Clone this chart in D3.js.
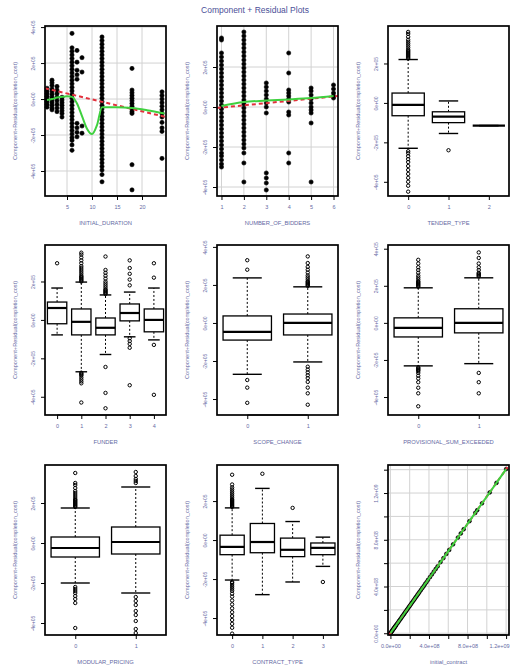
<!DOCTYPE html>
<html>
<head>
<meta charset="utf-8">
<script src="https://cdn.jsdelivr.net/npm/d3@7"></script>
<style>
  body { margin: 0; background: #fff; }
  svg { display: block; font-family: "Liberation Sans", Arial, sans-serif; }
</style>
</head>
<body>
<div id="chart"></div>
<script>
// ---- data (residual units are 1e5, contract units are 1e8) ----

// INITIAL_DURATION : scatter, grouped by x level
const durationLevels = [1, 2, 3, 4, 6, 7, 8, 12, 18, 24]
const durationResid = [
  [0.6, 0.45, 0.3, 0.15, 0.0, -0.15, -0.3, -0.45],
  [1.05, 0.9, 0.75, 0.55, 0.4, 0.25, 0.1, -0.05, -0.2, -0.35, -0.5, -0.6],
  [0.7, 0.5, 0.3, 0.1, -0.1, -0.3, -0.5, -0.7],
  [0.1, -0.05, -0.2, -0.35, -0.5, -0.65, -0.8, -1.0],
  [3.65, 2.85, 2.65, 2.45, 2.25, 2.05, 1.85, 1.65, 1.45, 1.25, 1.05, 0.85, 0.65, 0.45, 0.25, 0.05,
   -0.15, -0.35, -0.55, -0.75, -0.95, -1.15, -1.35, -1.55, -1.75, -1.95, -2.15, -2.3, -2.55, -2.85],
  [2.7, 2.05, 1.6, 1.35, 1.1, -1.35, -1.6, -1.85, -2.1],
  [2.3, 1.5, -1.5, -1.9],
  [3.45, 3.25, 3.05, 2.85, 2.65, 2.45, 2.25, 2.05, 1.85, 1.65, 1.45, 1.25, 1.05, 0.85, 0.65, 0.45, 0.25, 0.05,
   -0.15, -0.35, -0.55, -0.75, -0.95, -1.15, -1.35, -1.55, -1.75, -1.95, -2.15, -2.35, -2.55, -2.75, -2.95,
   -3.15, -3.35, -3.55, -3.75, -3.95, -4.2, -4.6],
  [1.7, 0.5, 0.35, 0.2, 0.05, -0.1, -0.25, -0.4, -0.55, -0.7, -0.8, -3.65, -5.05],
  [0.4, 0.2, 0.0, -0.2, -0.4, -0.6, -0.8, -1.0, -1.3, -1.6, -1.8, -3.3]
]
const durationFitX = [0.6, 24.8]
const durationFitY = [0.6, -1.0]
const durationSmoothX = [1, 2, 3, 4, 5, 6, 7, 8, 9, 10, 11, 12, 15, 18, 21, 24.5]
const durationSmoothY = [-0.05, 0.0, 0.08, 0.12, 0.15, 0.12, -0.25, -0.95, -1.65, -1.95, -1.45, -0.45, -0.45, -0.5, -0.62, -0.8]
const durationTicks = [5, 10, 15, 20]

// NUMBER_OF_BIDDERS : scatter
const biddersLevels = [1, 2, 3, 4, 5, 6]
const biddersResid = [
  [3.45, 3.35, 2.7, 2.5, 2.3, 2.1, 1.9, 1.7, 1.5, 1.3, 1.1, 0.9, 0.7, 0.5, 0.3, 0.1, -0.1, -0.3, -0.5,
   -0.7, -0.9, -1.1, -1.3, -1.5, -1.7, -1.9, -2.1, -2.3, -2.45, -2.65, -2.85, -3.0],
  [3.75, 3.55, 3.35, 3.15, 2.95, 2.75, 2.55, 2.35, 2.15, 1.95, 1.75, 1.55, 1.35, 1.15, 0.95, 0.75, 0.55,
   0.35, 0.15, -0.05, -0.25, -0.45, -0.65, -0.85, -1.05, -1.25, -1.45, -1.65, -1.85, -2.05, -2.3, -2.8, -3.75],
  [1.2, 1.0, 0.8, 0.6, 0.4, 0.2, 0.0, -0.3, -3.3, -3.55, -3.8, -4.15],
  [2.7, 1.7, 0.85, 0.7, 0.55, 0.4, 0.25, -0.25, -0.4, -2.3, -2.8],
  [0.95, 0.8, 0.6, 0.4, 0.2, 0.0, -0.15, -0.3, -0.8, -3.75],
  [1.1, 0.9, 0.7, 0.55, 0.45]
]
const biddersFitX = [0.8, 6.2]
const biddersFitY = [-0.05, 0.55]
const biddersSmoothX = [1, 2, 3, 4, 5, 6]
const biddersSmoothY = [0.05, 0.25, 0.32, 0.38, 0.45, 0.55]

// box plots: [lower whisker, q1, median, q3, upper whisker]
const tenderCats = ["0", "1", "2"]
const tenderStats = [[-2.3, -0.65, -0.1, 0.5, 2.2], [-1.55, -1.0, -0.7, -0.45, 0.1], [-1.15, -1.15, -1.15, -1.15, -1.15]]
const tenderOut = [
  [2.25, 2.3, 2.35, 2.4, 2.45, 2.5, 2.55, 2.6, 2.65, 2.7, 2.8, 2.9, 3.0, 3.1, 3.2, 3.35, 3.5, 3.6,
   -2.45, -2.55, -2.7, -2.85, -3.0, -3.2, -3.4, -3.6, -3.8, -4.0, -4.2, -4.5],
  [-2.4], []
]

const funderCats = ["0", "1", "2", "3", "4"]
const funderStats = [
  [-0.78, -0.2, 0.62, 0.93, 1.66], [-2.7, -0.78, -0.1, 0.57, 1.97], [-1.8, -0.78, -0.41, 0.1, 1.3],
  [-0.88, -0.05, 0.36, 0.83, 1.45], [-1.04, -0.62, 0.0, 0.57, 1.66]
]
const funderOut = [
  [2.95],
  [2.0, 2.05, 2.1, 2.15, 2.2, 2.25, 2.3, 2.4, 2.5, 2.6, 2.7, 2.8, 2.95, 3.1, 3.25, 3.4, 3.5,
   -2.75, -2.8, -2.85, -2.9, -3.0, -3.1, -3.2, -3.3, -4.3],
  [1.35, 1.4, 1.45, 1.5, 1.55, 1.6, 1.7, 1.8, 1.9, 2.0, 2.15, 2.3, 2.45, 2.6, 3.3, -2.45, -3.8, -4.6],
  [1.8, 2.1, 2.4, 2.7, 3.1, -0.95, -1.1, -1.25, -1.45, -3.4],
  [2.2, 2.95, -1.3, -3.9]
]

const scopeCats = ["0", "1"]
const scopeStats = [[-2.7, -0.9, -0.47, 0.37, 2.37], [-2.05, -0.63, 0.0, 0.47, 1.9]]
const scopeOut = [
  [2.8, 3.3, -3.0, -3.4, -4.2],
  [1.95, 2.0, 2.05, 2.1, 2.15, 2.2, 2.3, 2.4, 2.5, 2.65, 2.8, 2.95, 3.15, 3.5,
   -2.3, -2.45, -2.6, -2.75, -2.9, -3.1, -3.4, -3.7, -4.3]
]

const provCats = ["0", "1"]
const provStats = [[-2.32, -0.76, -0.27, 0.27, 1.89], [-2.2, -0.54, 0.0, 0.76, 2.43]]
const provOut = [
  [1.95, 2.0, 2.05, 2.1, 2.15, 2.2, 2.25, 2.35, 2.45, 2.55, 2.7, 2.85, 3.0, 3.2, 3.4,
   -2.4, -2.45, -2.5, -2.55, -2.6, -2.7, -2.85, -3.0, -3.2, -3.5, -3.8, -4.5],
  [2.5, 2.55, 2.6, 2.65, 2.7, 2.85, 3.0, 3.2, 3.5, 3.8, -2.7, -3.2, -3.8]
]

const modularCats = ["0", "1"]
const modularStats = [[-2.0, -0.7, -0.25, 0.3, 1.75], [-2.5, -0.55, 0.05, 0.8, 2.8]]
const modularOut = [
  [1.8, 1.85, 1.9, 1.95, 2.0, 2.05, 2.1, 2.15, 2.2, 2.3, 2.4, 2.5, 2.6, 2.75, 2.9, 3.0, 3.5,
   -2.2, -2.3, -2.4, -2.5, -2.65, -2.8, -3.0, -4.25],
  [3.0, 3.1, 3.2, 3.35, 3.55, -2.7, -2.9, -3.1, -3.4, -3.6, -3.9, -4.3, -4.5]
]

const contractTypeCats = ["0", "1", "2", "3"]
const contractTypeStats = [
  [-2.05, -0.75, -0.35, 0.25, 1.65], [-2.8, -0.65, -0.1, 0.85, 2.65],
  [-2.15, -0.85, -0.5, 0.1, 0.95], [-1.35, -0.75, -0.4, -0.15, 0.15]
]
const contractTypeOut = [
  [1.7, 1.75, 1.8, 1.85, 1.9, 1.95, 2.0, 2.05, 2.1, 2.2, 2.3, 2.4, 2.5, 2.6, 2.7, 2.85, 3.35,
   -2.15, -2.2, -2.3, -2.4, -2.5, -2.6, -2.75, -2.9, -3.1, -3.3, -3.5, -3.7, -3.9, -4.1, -4.3, -4.5, -4.8],
  [3.4], [1.65], [-2.15]
]

// initial_contract : scatter (1e8 units)
const contractX = [0.0, 0.05, 0.1, 0.15, 0.2, 0.25, 0.3, 0.35, 0.4, 0.45, 0.5, 0.55, 0.6, 0.7, 0.8, 0.9, 1.0,
  1.1, 1.2, 1.3, 1.4, 1.5, 1.6, 1.7, 1.8, 1.9, 2.0, 2.1, 2.2, 2.3, 2.4, 2.5, 2.6, 2.7, 2.8, 2.9, 3.0,
  3.15, 3.3, 3.45, 3.6, 3.75, 3.9, 4.1, 4.3, 4.5, 4.7, 4.9, 5.2, 5.5, 5.8, 6.1, 6.5,
  7.0, 7.3, 7.6, 8.2, 8.8, 9.0, 9.5, 10.3, 11.0, 12.0]
const contractY = [0.02, 0.05, 0.12, 0.17, 0.24, 0.29, 0.36, 0.4, 0.47, 0.53, 0.58, 0.65, 0.7, 0.83, 0.93, 1.06, 1.17,
  1.28, 1.41, 1.52, 1.63, 1.76, 1.87, 1.99, 2.1, 2.23, 2.34, 2.45, 2.58, 2.69, 2.81, 2.92, 3.05, 3.15, 3.28, 3.39, 3.51,
  3.69, 3.86, 4.03, 4.22, 4.38, 4.57, 4.8, 5.03, 5.27, 5.5, 5.73, 6.09, 6.43, 6.79, 7.13, 7.61,
  8.19, 8.54, 8.9, 9.59, 10.3, 10.53, 11.12, 12.05, 12.87, 14.05]
const contractFitX = [-0.15, 12.15]
const contractFitY = [-0.17, 14.22]
const contractTicks = [0, 2, 4, 6, 8, 10, 12, 14]
const contractLabels = { 0: "0.0e+00", 4: "4.0e+08", 8: "8.0e+08", 12: "1.2e+09" }

const residTicks = [-4, -2, 0, 2, 4]

// ---- layout ----
const width = 510, height = 670
const colLeft = [45, 217, 388]
const rowTop = [26, 245, 465]
const panelW = 121, panelH = 170
const textColor = "#666aa4"
const yTitle = "Component+Residual(completion_cost)"

const svg = d3.select("#chart").append("svg")
  .attr("width", width)
  .attr("height", height)

svg.append("text")
  .attr("x", 255).attr("y", 13)
  .attr("text-anchor", "middle")
  .attr("font-size", 8.5)
  .attr("fill", "#4b4f98")
  .text("Component + Residual Plots")

const residFmt = v => v === 0 ? "0e+00" : `${v}e+05`

function makePanel(col, row, xDomain, yDomain, opt) {
  const g = svg.append("g").attr("transform", `translate(${colLeft[col]},${rowTop[row]})`)
  const x = d3.scaleLinear().domain(xDomain).range([0, panelW])
  const y = d3.scaleLinear().domain(yDomain).range([panelH, 0])

  if (opt.grid) {
    g.append("g").selectAll("line").data(opt.xTicks).join("line")
      .attr("x1", d => x(d)).attr("x2", d => x(d)).attr("y1", 0).attr("y2", panelH)
      .attr("stroke", "#d2d2d2").attr("stroke-width", 1)
    g.append("g").selectAll("line").data(opt.yTicks).join("line")
      .attr("x1", 0).attr("x2", panelW).attr("y1", d => y(d)).attr("y2", d => y(d))
      .attr("stroke", "#d2d2d2").attr("stroke-width", 1)
  }

  // x axis
  const xa = g.append("g").attr("transform", `translate(0,${panelH})`)
    .call(d3.axisBottom(x).tickValues(opt.xTicks).tickSize(4).tickPadding(5).tickFormat(opt.xFmt))
  xa.select(".domain").remove()
  xa.append("line")
    .attr("x1", x(opt.xTicks[0])).attr("x2", x(opt.xTicks[opt.xTicks.length - 1]))
    .attr("stroke", "#000").attr("stroke-width", 1.2)
  xa.selectAll("line").attr("stroke", "#000")
  xa.selectAll("text").attr("fill", textColor).attr("font-size", 5.5)
  // keep the last label inside the page
  if (opt.lastEnd) xa.selectAll(".tick:last-of-type text").attr("text-anchor", "end").attr("x", 3)

  // y axis, labels parallel to axis like R
  const ya = g.append("g")
    .call(d3.axisLeft(y).tickValues(opt.yTicks).tickSize(4).tickFormat(opt.yFmt))
  ya.select(".domain").remove()
  ya.selectAll("line").attr("stroke", "#000")
  ya.selectAll("text")
    .attr("x", 0).attr("y", -10).attr("dy", 0)
    .attr("transform", "rotate(-90)")
    .attr("text-anchor", "middle")
    .attr("fill", textColor).attr("font-size", 5)

  g.append("text")
    .attr("x", panelW / 2).attr("y", panelH + 29)
    .attr("text-anchor", "middle").attr("font-size", 5.8).attr("fill", textColor)
    .text(opt.xTitle)
  g.append("text")
    .attr("transform", `translate(-28,${panelH / 2}) rotate(-90)`)
    .attr("text-anchor", "middle").attr("font-size", 5.6).attr("fill", textColor)
    .text(yTitle)

  const plot = g.append("g")
  const frame = () => g.append("rect")
    .attr("width", panelW).attr("height", panelH)
    .attr("fill", "none").attr("stroke", "#000").attr("stroke-width", 1.7)
  return { g: plot, x, y, frame }
}

function drawScatter(p, pts, r) {
  p.g.append("g").selectAll("circle").data(pts).join("circle")
    .attr("cx", d => p.x(d[0])).attr("cy", d => p.y(d[1])).attr("r", r)
    .attr("fill", "#000").attr("stroke", "#000").attr("stroke-width", 0.6)
}

function drawLines(p, fitX, fitY, smX, smY, curve) {
  const line = d3.line().x(d => p.x(d[0])).y(d => p.y(d[1]))
  p.g.append("path")
    .attr("d", line(d3.zip(fitX, fitY)))
    .attr("fill", "none").attr("stroke", "#e3303c").attr("stroke-width", 2)
    .attr("stroke-dasharray", "4,3")
  p.g.append("path")
    .attr("d", line.curve(curve || d3.curveLinear)(d3.zip(smX, smY)))
    .attr("fill", "none").attr("stroke", "#3fd13f").attr("stroke-width", 2)
}

function drawBoxes(p, stats, outs) {
  const half = (p.x(1.4) - p.x(1))
  const cap = half * 0.6
  stats.forEach((s, i) => {
    const cx = p.x(i + 1)
    const [lo, q1, med, q3, hi] = s
    const b = p.g.append("g")
    b.append("line").attr("x1", cx).attr("x2", cx).attr("y1", p.y(q3)).attr("y2", p.y(hi))
      .attr("stroke", "#000").attr("stroke-width", 1).attr("stroke-dasharray", "2,2")
    b.append("line").attr("x1", cx).attr("x2", cx).attr("y1", p.y(q1)).attr("y2", p.y(lo))
      .attr("stroke", "#000").attr("stroke-width", 1).attr("stroke-dasharray", "2,2")
    b.selectAll(".cap").data([lo, hi]).join("line")
      .attr("x1", cx - cap).attr("x2", cx + cap).attr("y1", d => p.y(d)).attr("y2", d => p.y(d))
      .attr("stroke", "#000").attr("stroke-width", 1.4)
    b.append("rect")
      .attr("x", cx - half).attr("y", p.y(q3))
      .attr("width", half * 2).attr("height", Math.max(0, p.y(q1) - p.y(q3)))
      .attr("fill", "#fff").attr("stroke", "#000").attr("stroke-width", 1.3)
    b.append("line").attr("x1", cx - half).attr("x2", cx + half).attr("y1", p.y(med)).attr("y2", p.y(med))
      .attr("stroke", "#000").attr("stroke-width", 2.2)
    b.selectAll("circle").data(outs[i]).join("circle")
      .attr("cx", cx).attr("cy", d => p.y(d)).attr("r", 1.7)
      .attr("fill", "none").attr("stroke", "#000").attr("stroke-width", 1)
  })
}

const catTicks = cats => d3.range(1, cats.length + 1)
const catFmt = cats => (d => cats[d - 1])

// row 1
{
  const p = makePanel(0, 0, [0.6, 24.8], [-5.39, 4.06],
    { grid: true, xTicks: durationTicks, yTicks: residTicks, xFmt: d3.format("d"), yFmt: residFmt, xTitle: "INITIAL_DURATION" })
  const pts = durationLevels.flatMap((lv, i) => durationResid[i].map(v => [lv, v]))
  drawScatter(p, pts, 2.1)
  drawLines(p, durationFitX, durationFitY, durationSmoothX, durationSmoothY, d3.curveMonotoneX)
  p.frame()
}
{
  const p = makePanel(1, 0, [0.8, 6.2], [-4.45, 4.05],
    { grid: true, xTicks: biddersLevels, yTicks: [-4, -2, 0, 2], xFmt: d3.format("d"), yFmt: residFmt, xTitle: "NUMBER_OF_BIDDERS" })
  const pts = biddersLevels.flatMap((lv, i) => biddersResid[i].map(v => [lv, v]))
  drawScatter(p, pts, 2.1)
  drawLines(p, biddersFitX, biddersFitY, biddersSmoothX, biddersSmoothY, d3.curveMonotoneX)
  p.frame()
}
{
  const p = makePanel(2, 0, [0.5, 3.5], [-4.72, 3.9],
    { xTicks: catTicks(tenderCats), yTicks: [-4, -2, 0, 2], xFmt: catFmt(tenderCats), yFmt: residFmt, xTitle: "TENDER_TYPE" })
  drawBoxes(p, tenderStats, tenderOut)
  p.frame()
}

// row 2
{
  const p = makePanel(0, 1, [0.5, 5.5], [-4.95, 3.9],
    { xTicks: catTicks(funderCats), yTicks: [-4, -2, 0, 2], xFmt: catFmt(funderCats), yFmt: residFmt, xTitle: "FUNDER" })
  drawBoxes(p, funderStats, funderOut)
  p.frame()
}
{
  const p = makePanel(1, 1, [0.5, 2.5], [-4.84, 4.1],
    { xTicks: catTicks(scopeCats), yTicks: residTicks, xFmt: catFmt(scopeCats), yFmt: residFmt, xTitle: "SCOPE_CHANGE" })
  drawBoxes(p, scopeStats, scopeOut)
  p.frame()
}
{
  const p = makePanel(2, 1, [0.5, 2.5], [-4.97, 4.2],
    { xTicks: catTicks(provCats), yTicks: residTicks, xFmt: catFmt(provCats), yFmt: residFmt, xTitle: "PROVISIONAL_SUM_EXCEEDED" })
  drawBoxes(p, provStats, provOut)
  p.frame()
}

// row 3
{
  const p = makePanel(0, 2, [0.5, 2.5], [-4.6, 3.9],
    { xTicks: catTicks(modularCats), yTicks: [-4, -2, 0, 2], xFmt: catFmt(modularCats), yFmt: residFmt, xTitle: "MODULAR_PRICING" })
  drawBoxes(p, modularStats, modularOut)
  p.frame()
}
{
  const p = makePanel(1, 2, [0.5, 4.5], [-4.87, 3.85],
    { xTicks: catTicks(contractTypeCats), yTicks: [-4, -2, 0, 2], xFmt: catFmt(contractTypeCats), yFmt: residFmt, xTitle: "CONTRACT_TYPE" })
  drawBoxes(p, contractTypeStats, contractTypeOut)
  p.frame()
}
{
  const p = makePanel(2, 2, [-0.25, 12.3], [-0.15, 14.4],
    { grid: true, xTicks: contractTicks.slice(0, 7), yTicks: contractTicks, lastEnd: true,
      xFmt: d => contractLabels[d] || "", yFmt: d => contractLabels[d] || "", xTitle: "initial_contract" })
  drawScatter(p, d3.zip(contractX, contractY), 1.9)
  drawLines(p, contractFitX, contractFitY, contractX, contractY, d3.curveLinear)
  p.frame()
}
</script>
</body>
</html>
